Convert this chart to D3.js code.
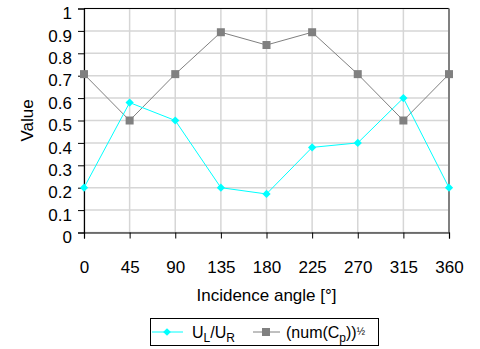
<!DOCTYPE html>
<html><head><meta charset="utf-8">
<script src="https://cdn.jsdelivr.net/npm/d3@7"></script>
<style>body{margin:0;background:#fff}svg{display:block;font-family:"Liberation Sans",Arial,sans-serif}</style>
</head><body><svg id="c" width="480" height="349"></svg>
<script>
const angles = [0, 45, 90, 135, 180, 225, 270, 315, 360];
const ulur = [0.2, 0.58, 0.5, 0.2, 0.172, 0.38, 0.4, 0.6, 0.2];
const numCp = [0.707, 0.5, 0.707, 0.894, 0.837, 0.894, 0.707, 0.5, 0.707];
const yTicks = [0, 0.1, 0.2, 0.3, 0.4, 0.5, 0.6, 0.7, 0.8, 0.9, 1];
const yTickLabels = ["0", "0.1", "0.2", "0.3", "0.4", "0.5", "0.6", "0.7", "0.8", "0.9", "1"];

const FONT = "Liberation Sans, Arial, sans-serif";
const FS = 17;
const svg = d3.select("#c");
const L = 84, R = 449, T = 8.5, B = 232.5;
const x = d3.scaleLinear().domain([0, 360]).range([L, R]);
const y = d3.scaleLinear().domain([0, 1]).range([B, T]);

// gridlines
svg.append("g").selectAll("line").data(yTicks).join("line")
  .attr("x1", L).attr("x2", R).attr("y1", d => y(d)).attr("y2", d => y(d))
  .attr("stroke", "#d6d6d6").attr("stroke-width", 1.5);
svg.append("g").selectAll("line").data(angles).join("line")
  .attr("y1", T).attr("y2", B).attr("x1", d => x(d)).attr("x2", d => x(d))
  .attr("stroke", "#d6d6d6").attr("stroke-width", 1.5);

// borders
svg.append("line").attr("x1", L).attr("x2", R).attr("y1", T).attr("y2", T).attr("stroke", "#000").attr("stroke-width", 1);
svg.append("line").attr("x1", R).attr("x2", R).attr("y1", T).attr("y2", B).attr("stroke", "#808080").attr("stroke-width", 2);

// axes
const yAxis = d3.axisLeft(y).tickValues(yTicks).tickFormat((d, i) => yTickLabels[i]).tickSize(6).tickPadding(6);
const gy = svg.append("g").attr("transform", `translate(${L},0)`).call(yAxis);
gy.attr("font-family", FONT).attr("font-size", FS);
gy.select(".domain").attr("stroke", "#000").attr("stroke-width", 1.2);
gy.selectAll(".tick line").attr("stroke", "#000");
gy.selectAll(".tick text").attr("fill", "#000").attr("dy", "0.6em");

const xAxis = d3.axisBottom(x).tickValues(angles).tickFormat(d => String(d)).tickSize(6).tickPadding(22);
const gx = svg.append("g").attr("transform", `translate(0,${B})`).call(xAxis);
gx.attr("font-family", FONT).attr("font-size", FS);
gx.select(".domain").attr("stroke", "#000").attr("stroke-width", 1.2);
gx.selectAll(".tick line").attr("stroke", "#000");
gx.selectAll(".tick text").attr("fill", "#000");

// titles
svg.append("text").attr("transform", `translate(33,${(T + B) / 2}) rotate(-90)`)
  .attr("text-anchor", "middle").attr("font-size", FS).attr("font-family", FONT).text("Value");
svg.append("text").attr("x", (L + R) / 2).attr("y", 301)
  .attr("text-anchor", "middle").attr("font-size", FS).attr("font-family", FONT).text("Incidence angle [°]");

// series
const line = d3.line().x((d, i) => x(angles[i])).y(d => y(d));
svg.append("path").datum(numCp).attr("d", line).attr("fill", "none").attr("stroke", "#808080").attr("stroke-width", 1);
svg.append("path").datum(ulur).attr("d", line).attr("fill", "none").attr("stroke", "#00ffff").attr("stroke-width", 1);

svg.append("g").selectAll("rect").data(numCp).join("rect")
  .attr("x", (d, i) => x(angles[i]) - 4).attr("y", d => y(d) - 4)
  .attr("width", 8).attr("height", 8).attr("fill", "#808080");
svg.append("g").selectAll("path").data(ulur).join("path")
  .attr("d", d3.symbol().type(d3.symbolSquare).size(34))
  .attr("transform", (d, i) => `translate(${x(angles[i])},${y(d)}) rotate(45)`)
  .attr("fill", "#00ffff");

// legend
const lg = svg.append("g").attr("font-family", FONT);
lg.append("rect").attr("x", 150.5).attr("y", 318.5).attr("width", 228).attr("height", 27)
  .attr("fill", "#fff").attr("stroke", "#000").attr("stroke-width", 1);
lg.append("line").attr("x1", 152).attr("x2", 183).attr("y1", 332).attr("y2", 332).attr("stroke", "#00ffff");
lg.append("path").attr("d", d3.symbol().type(d3.symbolSquare).size(30)).attr("transform", "translate(167,332) rotate(45)").attr("fill", "#00ffff");
const t1 = lg.append("text").attr("x", 192).attr("y", 338).attr("font-size", 16);
t1.append("tspan").text("U");
t1.append("tspan").attr("font-size", 12).attr("dy", 4).text("L");
t1.append("tspan").attr("dy", -4).text("/U");
t1.append("tspan").attr("font-size", 12).attr("dy", 4).text("R");
lg.append("line").attr("x1", 253).attr("x2", 280).attr("y1", 332).attr("y2", 332).attr("stroke", "#808080");
lg.append("rect").attr("x", 262).attr("y", 328).attr("width", 8).attr("height", 8).attr("fill", "#808080");
const t2 = lg.append("text").attr("x", 286).attr("y", 338).attr("font-size", 16);
t2.append("tspan").text("(num(C");
t2.append("tspan").attr("font-size", 12).attr("dy", 4).text("p");
t2.append("tspan").attr("dy", -4).text("))");
t2.append("tspan").attr("font-size", 10).attr("dy", -3).text("½");
</script></body></html>
